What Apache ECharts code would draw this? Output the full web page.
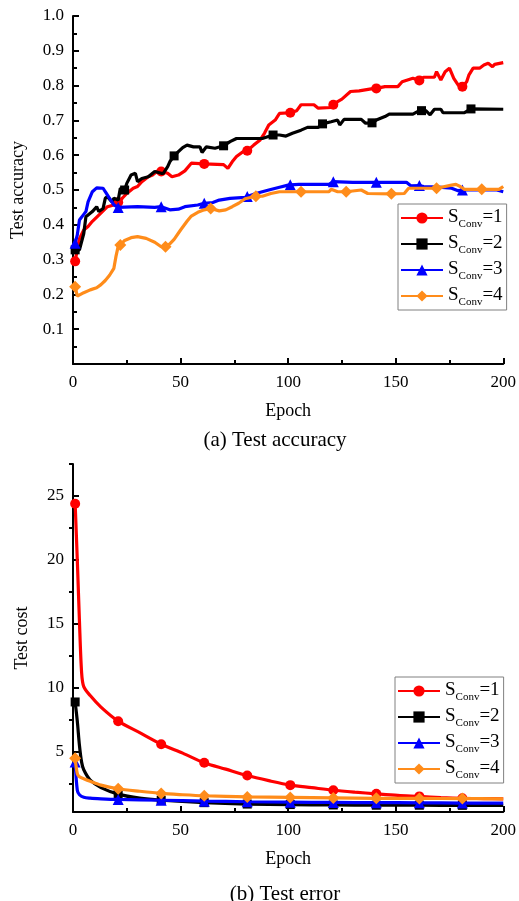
<!DOCTYPE html>
<html>
<head>
<meta charset="utf-8">
<script src="https://cdn.jsdelivr.net/npm/echarts@6/dist/echarts.min.js"></script>
<style>html,body{margin:0;padding:0;background:#fff;}#c{width:519px;height:901px;}</style>
</head>
<body>
<div id="c"></div>
<script>
// ---------- (a) Test accuracy ----------
const accRedEpoch = [1,2,3,5,7,9,12,14,16,19,21,23,25,28,30,32,35,37,39,41,44,46,49,52,55,61,70,72,74,76,79,81,84,87,89,91,94,96,101,104,106,112,114,120,121,123,125,129,133,140,141,145,151,153,158,161,163,168,169,171,173,175,177,179,181,183,184,186,189,191,193,195,196,200];
const accRed = [0.295,0.33,0.36,0.385,0.395,0.41,0.428,0.44,0.452,0.457,0.465,0.477,0.49,0.505,0.51,0.524,0.538,0.543,0.553,0.553,0.548,0.538,0.543,0.555,0.577,0.575,0.573,0.562,0.581,0.596,0.61,0.613,0.629,0.644,0.663,0.687,0.701,0.72,0.722,0.728,0.745,0.745,0.735,0.737,0.745,0.754,0.761,0.783,0.785,0.792,0.792,0.797,0.797,0.811,0.821,0.815,0.824,0.824,0.84,0.816,0.84,0.85,0.821,0.802,0.797,0.811,0.83,0.85,0.85,0.859,0.864,0.854,0.861,0.866];

const accBlackEpoch = [1,3,5,6,9,11,12,14,15,16,18,19,21,22,24,25,27,29,30,32,35,38,41,42,44,45,47,49,51,53,56,59,60,62,66,70,73,76,88,93,96,99,102,106,109,114,116,120,123,124,126,134,136,139,141,145,147,158,161,162,164,166,168,171,172,182,185,200];
const accBlack = [0.328,0.328,0.375,0.423,0.438,0.452,0.438,0.447,0.476,0.481,0.466,0.476,0.471,0.505,0.5,0.519,0.543,0.548,0.524,0.533,0.538,0.553,0.548,0.548,0.567,0.581,0.598,0.61,0.622,0.629,0.624,0.624,0.608,0.624,0.62,0.627,0.639,0.648,0.648,0.658,0.658,0.655,0.663,0.672,0.68,0.68,0.69,0.696,0.701,0.687,0.703,0.703,0.692,0.693,0.701,0.711,0.718,0.718,0.728,0.728,0.728,0.716,0.732,0.732,0.722,0.722,0.733,0.732];

const accBlueEpoch = [1,2,3,5,6,7,9,11,14,15,17,19,21,30,38,41,45,49,52,58,61,65,68,73,80,81,85,91,96,100,101,105,119,121,130,141,155,157,161,163,170,176,179,181,197,200];
const accBlue = [0.347,0.371,0.414,0.43,0.438,0.466,0.495,0.506,0.505,0.495,0.476,0.457,0.45,0.452,0.45,0.452,0.443,0.445,0.452,0.457,0.462,0.464,0.471,0.476,0.479,0.481,0.49,0.5,0.508,0.514,0.515,0.516,0.516,0.524,0.522,0.522,0.522,0.512,0.513,0.51,0.508,0.505,0.498,0.5,0.5,0.495];

const accOrangeEpoch = [1,2,5,8,11,13,15,17,19,20,21,22,24,27,30,34,38,41,43,45,47,50,53,55,58,61,64,68,71,74,77,80,85,88,92,96,106,119,120,123,127,134,137,148,154,156,169,176,178,180,182,190,198,200];
const accOrange = [0.222,0.195,0.205,0.213,0.219,0.228,0.24,0.255,0.275,0.31,0.338,0.342,0.355,0.363,0.366,0.361,0.35,0.337,0.337,0.345,0.358,0.385,0.41,0.425,0.436,0.443,0.447,0.44,0.443,0.452,0.462,0.475,0.482,0.482,0.49,0.495,0.495,0.495,0.502,0.495,0.495,0.5,0.49,0.489,0.49,0.505,0.505,0.514,0.516,0.51,0.502,0.502,0.502,0.51];

const accRedMarks = [1,21,41,61,81,101,121,141,161,181];
const accBlackMarks = [1,24,47,70,93,116,139,162,185];
const accBlueMarks = [1,21,41,61,81,101,121,141,161,181];
const accOrangeMarks = [1,22,43,64,85,106,127,148,169,190];

// ---------- (b) Test error ----------
const costRedEpoch = [1,2,3,4,5,8,13,21,31,41,51,61,71,81,91,101,111,121,131,141,151,161,171,181,191,200];
const costRed = [24.4,20.0,15.2,11.2,10.1,9.4,8.5,7.4,6.5,5.6,4.9,4.15,3.65,3.15,2.75,2.4,2.2,2.0,1.85,1.72,1.6,1.52,1.43,1.37,1.35,1.33];
const costBlackEpoch = [1,2,3,4,5,8,13,21,31,41,61,81,101,121,141,161,181,200];
const costBlack = [8.9,7.4,5.5,4.2,3.6,2.8,2.2,1.7,1.38,1.22,1.03,0.92,0.88,0.85,0.83,0.83,0.82,0.82];
const costBlueEpoch = [1,2,3,5,8,13,21,41,61,81,101,121,141,161,181,200];
const costBlue = [4.2,2.0,1.65,1.45,1.38,1.33,1.28,1.22,1.15,1.1,1.07,1.05,1.03,1.02,1.0,1.0];
const costOrangeEpoch = [1,2,3,5,8,13,21,31,41,51,61,81,101,121,141,161,181,200];
const costOrange = [4.5,3.3,3.05,2.9,2.7,2.4,2.12,1.92,1.75,1.65,1.57,1.48,1.44,1.40,1.37,1.36,1.35,1.32];
const costMarks = [1,21,41,61,81,101,121,141,161,181];

const xTicks = [0,50,100,150,200];
const costYTicks = [5,10,15,20,25];
const costYMinorTicks = [2.5,7.5,12.5,17.5,22.5,27.5];
const legendLabels = ['1','2','3','4'];

const FONT = 'Liberation Serif';
const colors = ['#ff0000','#000000','#0000ff','#ff8c1a'];
const symbols = ['circle','rect','triangle','diamond'];
const symSizes = [10,9,11,12];

function build(ep, val, marks) {
  return ep.map((e, i) => marks.indexOf(e) >= 0 ? [e, val[i]] : {value: [e, val[i]], symbol: 'none'});
}

function mkSeries(prefix, k, data, xi, yi, smooth) {
  return {
    name: prefix + legendLabels[k],
    type: 'line',
    xAxisIndex: xi, yAxisIndex: yi,
    data: data,
    symbol: symbols[k], symbolSize: symSizes[k],
    showSymbol: true, showAllSymbol: true,
    smooth: smooth ? 0.3 : false,
    lineStyle: {color: colors[k], width: 3.2},
    itemStyle: {color: colors[k]},
    animation: false,
    z: 2 + k
  };
}

const series = [
  mkSeries('a', 0, build(accRedEpoch, accRed, accRedMarks), 0, 0, false),
  mkSeries('a', 1, build(accBlackEpoch, accBlack, accBlackMarks), 0, 0, false),
  mkSeries('a', 2, build(accBlueEpoch, accBlue, accBlueMarks), 0, 0, false),
  mkSeries('a', 3, build(accOrangeEpoch, accOrange, accOrangeMarks), 0, 0, false),
  mkSeries('b', 0, build(costRedEpoch, costRed, costMarks), 1, 1, true),
  mkSeries('b', 1, build(costBlackEpoch, costBlack, costMarks), 1, 1, true),
  mkSeries('b', 2, build(costBlueEpoch, costBlue, costMarks), 1, 1, true),
  mkSeries('b', 3, build(costOrangeEpoch, costOrange, costMarks), 1, 1, true)
];

const axisLineStyle = {show: true, onZero: false, lineStyle: {color: '#000', width: 2}};
const labelStyle = {color: '#000', fontFamily: FONT, fontSize: 17};
const nameStyle = {color: '#000', fontFamily: FONT, fontSize: 18};

function xAxis(gi) {
  return {
    type: 'value', gridIndex: gi, min: 0, max: 200, interval: 50,
    axisLine: axisLineStyle,
    axisTick: {show: true, inside: true, length: 6, lineStyle: {color: '#000', width: 2}},
    minorTick: {show: true, splitNumber: 2, length: 4, lineStyle: {color: '#000', width: 2}},
    splitLine: {show: false},
    axisLabel: Object.assign({margin: 10, formatter: v => String(v)}, labelStyle),
    name: 'Epoch', nameLocation: 'middle', nameGap: 38, nameTextStyle: nameStyle
  };
}

const legendRich = {
  s: {fontFamily: FONT, fontSize: 19, color: '#000', lineHeight: 20, verticalAlign: 'top'},
  sub: {fontFamily: FONT, fontSize: 11, color: '#000', lineHeight: 11, verticalAlign: 'top', padding: [11, 0, 0, 0]}
};
function legend(prefix, left, top) {
  return {
    show: true, orient: 'vertical', left: left, top: top,
    data: legendLabels.map(l => prefix + l),
    itemWidth: 42, itemHeight: 14, itemGap: 4,
    padding: [4, 4, 2, 2],
    borderColor: '#808080', borderWidth: 1, backgroundColor: '#fff',
    formatter: n => '{s|S}{sub|Conv}{s|=' + n.slice(1) + '}',
    textStyle: {rich: legendRich},
    selectedMode: false
  };
}

const option = {
  backgroundColor: '#fff',
  animation: false,
  title: [
    {text: '(a) Test accuracy', left: 270, top: 425, textAlign: 'center',
     textStyle: {fontFamily: FONT, fontSize: 21, fontWeight: 'normal', color: '#000'}},
    {text: '(b) Test error', left: 280, top: 879, textAlign: 'center',
     textStyle: {fontFamily: FONT, fontSize: 21, fontWeight: 'normal', color: '#000'}}
  ],
  grid: [
    {left: 73, right: 13, top: 16, height: 348},
    {left: 73, right: 13, top: 464, height: 348}
  ],
  xAxis: [xAxis(0), xAxis(1)],
  yAxis: [
    {
      type: 'value', gridIndex: 0, min: 0, max: 1, interval: 0.1,
      axisLine: axisLineStyle,
      axisTick: {show: true, inside: true, length: 6, lineStyle: {color: '#000', width: 2}},
      minorTick: {show: true, splitNumber: 2, length: 4, lineStyle: {color: '#000', width: 2}},
      splitLine: {show: false},
      axisLabel: Object.assign({margin: 9, formatter: v => v === 0 ? '' : v.toFixed(1)}, labelStyle),
      name: 'Test accuracy', nameLocation: 'middle', nameGap: 46, nameRotate: 90, nameTextStyle: nameStyle
    },
    {
      type: 'value', gridIndex: 1, min: 0.3, max: 27.5,
      axisLine: axisLineStyle,
      axisTick: {show: true, inside: true, length: 6, customValues: costYTicks, lineStyle: {color: '#000', width: 2}},
      splitLine: {show: false},
      axisLabel: Object.assign({margin: 9, customValues: costYTicks, formatter: v => String(v)}, labelStyle),
      name: 'Test cost', nameLocation: 'middle', nameGap: 42, nameRotate: 90, nameTextStyle: nameStyle
    },
    {
      type: 'value', gridIndex: 1, min: 0.3, max: 27.5,
      axisLine: {show: false},
      axisTick: {show: true, inside: true, length: 4, customValues: costYMinorTicks, lineStyle: {color: '#000', width: 2}},
      splitLine: {show: false},
      axisLabel: {show: false}
    }
  ],
  legend: [legend('a', 398, 204), legend('b', 395, 677)],
  series: series
};

const chart = echarts.init(document.getElementById('c'), null, {renderer: 'canvas'});
chart.setOption(option);
</script>
</body>
</html>
